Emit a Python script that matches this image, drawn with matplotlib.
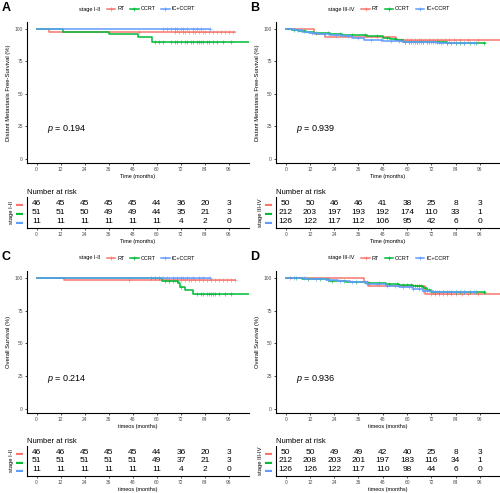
import numpy as np
import matplotlib.pyplot as plt
from matplotlib.lines import Line2D

plt.rcParams['font.family'] = ['Liberation Sans', 'DejaVu Sans']
plt.rcParams['mathtext.fontset'] = 'custom'
plt.rcParams['mathtext.it'] = 'Liberation Sans:italic'
plt.rcParams['mathtext.rm'] = 'Liberation Sans'

months = [0, 12, 24, 36, 48, 60, 72, 84, 96]
groups = ['RT', 'CCRT', 'IC+CCRT']
colors = ['#F8766D', '#00BA38', '#619CFF']

# ---- A: distant metastasis free survival, stage I-II
a_rt_t = [0, 6.1, 99]
a_rt_s = [100, 97.8, 97.8]
a_rt_c = [51, 69, 71, 73, 74, 76, 78, 79, 81, 83, 84, 86, 88, 90, 92, 94, 96, 98]
a_ccrt_t = [0, 13.4, 36, 50.4, 57.5, 110]
a_ccrt_s = [100, 98, 96, 94, 89.8, 89.8]
a_ccrt_c = [59, 61, 63, 67, 69, 70, 72, 74, 75, 77, 78, 80, 81, 82, 83, 85, 86, 88, 90, 93, 97]
a_ic_t = [0, 86.6]
a_ic_s = [100, 100]
a_ic_c = [63, 65, 67, 69, 70, 72, 73, 75, 78, 80, 82, 86.6]
a_risk = [[46, 45, 45, 45, 45, 44, 36, 20, 3],
          [51, 51, 50, 49, 49, 44, 35, 21, 3],
          [11, 11, 11, 11, 11, 11, 4, 2, 0]]

# ---- B: distant metastasis free survival, stage III-IV
b_rt_t = [0, 13.8, 19.6, 54.7, 110]
b_rt_s = [100, 96, 93.9, 91.8, 91.8]
b_rt_c = [56, 58, 60, 62, 64, 66, 67, 69, 71, 73, 75, 77, 79, 81, 83, 86, 90, 95]
b_ccrt_t = [0, 3, 6, 10, 14, 18, 22, 28, 34, 40, 44.8, 48, 51.5, 55, 58, 66, 80, 98.7]
b_ccrt_s = [100, 99.3, 98.6, 97.9, 97.3, 96.6, 96, 95.6, 95.1, 94.7, 94.3, 93.3, 92.3, 91.2, 90.2, 89.8, 89.4, 89.4]
b_ccrt_c = [4, 9, 15, 21, 27, 33, 39, 45, 50, 54, 57, 59, 61, 62, 64, 65, 67, 68, 70, 71, 73, 75, 76, 78, 80, 82, 84, 86, 88, 91, 94, 98]
b_ic_t = [0, 4, 8, 11.6, 16, 22, 28, 33, 38.8, 48, 58, 75, 94.5]
b_ic_s = [100, 99, 98, 96.9, 96.2, 95.5, 94.8, 93.3, 91.7, 91, 90.2, 89.5, 89.5]
b_ic_c = [6, 13, 19, 25, 31, 36, 42, 47, 52, 56, 59, 61, 63, 65, 66, 68, 70, 72, 74, 77, 80, 84, 88, 93]
b_risk = [[50, 50, 46, 46, 41, 38, 25, 8, 3],
          [212, 203, 197, 193, 192, 174, 110, 33, 1],
          [126, 122, 117, 112, 106, 95, 42, 6, 0]]

# ---- C: overall survival, stage I-II
c_rt_t = [0, 13.9, 99]
c_rt_s = [100, 98.2, 98.2]
c_rt_c = [46, 66, 69, 72, 74, 76, 77, 79, 81, 83, 85, 87, 89, 91, 93, 95, 97, 99]
c_ccrt_t = [0, 62.4, 70.6, 71.6, 74, 78.1, 110]
c_ccrt_s = [100, 98, 96.2, 93.1, 90.5, 87.5, 87.5]
c_ccrt_c = [57, 59, 61, 64, 66, 68, 70, 72, 80, 82, 83, 85, 86, 87, 88, 89, 91, 94, 97]
c_ic_t = [0, 86.6]
c_ic_s = [100, 100]
c_ic_c = [63, 65, 68, 70, 72, 73, 75, 78, 81, 83, 86.6]
c_risk = [[46, 46, 45, 45, 45, 44, 36, 20, 3],
          [51, 51, 51, 51, 51, 49, 37, 21, 3],
          [11, 11, 11, 11, 11, 11, 4, 2, 0]]

# ---- D: overall survival, stage III-IV
d_rt_t = [0, 38.5, 40.6, 68.8, 110]
d_rt_s = [100, 96.9, 93.6, 87.5, 87.5]
d_rt_c = [2, 40, 62, 66, 72, 74, 76, 78, 80, 82, 84, 87, 90, 95]
d_ccrt_t = [0, 8, 18.2, 21.6, 30, 39, 49.8, 56, 63, 68, 70, 72, 98.7]
d_ccrt_s = [100, 99.5, 99, 97.7, 97, 96.2, 95.2, 94.6, 93.9, 92.6, 91, 89.2, 88.8]
d_ccrt_c = [5, 11, 17, 23, 29, 35, 41, 46, 51, 55, 58, 60, 62, 64, 65, 66, 67, 69, 71, 73, 74, 76, 78, 80, 82, 84, 86, 88, 91, 94, 98]
d_ic_t = [0, 10, 20, 26, 31.8, 40, 49.8, 56, 63, 68, 73, 94.5]
d_ic_s = [100, 99, 98.2, 97.5, 96.7, 95.2, 93.9, 92.8, 91.8, 90, 89, 89]
d_ic_c = [4, 9, 15, 21, 27, 33, 39, 45, 50, 54, 58, 61, 63, 66, 68, 70, 72, 75, 78, 81, 84, 88, 93]
d_risk = [[50, 50, 49, 49, 42, 40, 25, 8, 3],
          [212, 208, 203, 201, 197, 183, 116, 34, 1],
          [126, 126, 122, 117, 110, 98, 44, 6, 0]]

panels = [
    ('A', 'stage I-II', 'Distant Metastasis Free-Survival (%)', 'Time (months)', 0.194,
     [(a_rt_t, a_rt_s, a_rt_c), (a_ccrt_t, a_ccrt_s, a_ccrt_c), (a_ic_t, a_ic_s, a_ic_c)], a_risk),
    ('B', 'stage III-IV', 'Distant Metastasis Free-Survival (%)', 'Time (months)', 0.939,
     [(b_rt_t, b_rt_s, b_rt_c), (b_ccrt_t, b_ccrt_s, b_ccrt_c), (b_ic_t, b_ic_s, b_ic_c)], b_risk),
    ('C', 'stage I-II', 'Overall Survival (%)', 'timeos (months)', 0.214,
     [(c_rt_t, c_rt_s, c_rt_c), (c_ccrt_t, c_ccrt_s, c_ccrt_c), (c_ic_t, c_ic_s, c_ic_c)], c_risk),
    ('D', 'stage III-IV', 'Overall Survival (%)', 'timeos (months)', 0.936,
     [(d_rt_t, d_rt_s, d_rt_c), (d_ccrt_t, d_ccrt_s, d_ccrt_c), (d_ic_t, d_ic_s, d_ic_c)], d_risk),
]

W, H = 500, 493
fig = plt.figure(figsize=(W / 100, H / 100), dpi=100)


def px_axes(l, t, r, b):
    return fig.add_axes([l / W, 1 - b / H, (r - l) / W, (b - t) / H])


def style(ax):
    for s in ['top', 'right']:
        ax.spines[s].set_visible(False)
    for s in ['left', 'bottom']:
        ax.spines[s].set_linewidth(0.8)
    ax.tick_params(length=1.5, width=0.5, labelsize=3.5, labelcolor='#4d4d4d', pad=1.5)


# pixel boxes: left, right, main top, main bottom, table top, table bottom
boxes = [(27, 249, 22, 163, 197, 228),
         (276, 500, 22, 163, 197, 228),
         (27, 249, 271, 413, 446, 476),
         (276, 500, 271, 413, 446, 476)]

for (letter, stage, ylab, xlab, pval, curves, risk), (l, r, t1, b1, t2, b2) in zip(panels, boxes):
    ax = px_axes(l, t1, r, b1)
    style(ax)
    for (tt, ss, cc), col in zip(curves, colors):
        tt = np.array(tt)
        ss = np.array(ss)
        ax.step(tt, ss, where='post', color=col, lw=1.1)
        cc = np.array(cc)
        idx = np.searchsorted(tt, cc, side='right') - 1
        ax.plot(cc, ss[idx], ls='none', marker='+', ms=3, mew=0.5, color=col, alpha=0.8)
    ax.set_xlim(-4.8, 106)
    ax.set_ylim(-3.2, 105.4)
    ax.set_xticks(months)
    ax.set_yticks([0, 25, 50, 75, 100])
    ax.set_xlabel(xlab, fontsize=4, labelpad=1)
    ax.set_ylabel(ylab, fontsize=4.2, labelpad=2.5)
    ax.text(5, 23, '$p$ = %.3f' % pval, fontsize=6.5, va='center', ha='left')

    # legend above the plot
    fig.text((l + 52) / W, 1 - (t1 - 13) / H, stage, fontsize=4, va='center', ha='left')
    handles = [Line2D([], [], color=c, lw=1.1, marker='+', ms=3, mew=0.5) for c in colors]
    ax.legend(handles, groups, ncol=3, loc='center left',
              bbox_to_anchor=((l + 80 + (len(stage) - 10) * 2.7) / W, 1 - (t1 - 13) / H),
              bbox_transform=fig.transFigure, frameon=False, fontsize=4,
              handlelength=1.5, handletextpad=0.4, columnspacing=1.0,
              borderpad=0, borderaxespad=0)

    lx = 2 if letter in 'AC' else l - 26
    fig.text(lx / W, 1 - (t1 - 14) / H, letter, fontsize=9, fontweight='bold',
             va='center', ha='left')

    # number at risk table
    rt = px_axes(l, t2, r, b2)
    style(rt)
    for row, vals in enumerate(risk):
        for m, v in zip(months, vals):
            rt.text(m, 3 - row, str(v), ha='center', va='center', fontsize=6)
    rt.set_xlim(-4.8, 106)
    rt.set_ylim(0.25, 3.75)
    rt.set_xticks(months)
    rt.set_yticks([3, 2, 1])
    rt.set_yticklabels(['\u25ac'] * 3, fontsize=5)
    for lab, col in zip(rt.get_yticklabels(), colors):
        lab.set_color(col)
    rt.tick_params(axis='y', length=0, pad=3)
    rt.set_xlabel(xlab, fontsize=4, labelpad=1)
    rt.set_ylabel(stage, fontsize=4.2, labelpad=1.5)
    rt.set_title('Number at risk', loc='left', fontsize=5.5, pad=2)

fig.savefig('out.png', dpi=100)
